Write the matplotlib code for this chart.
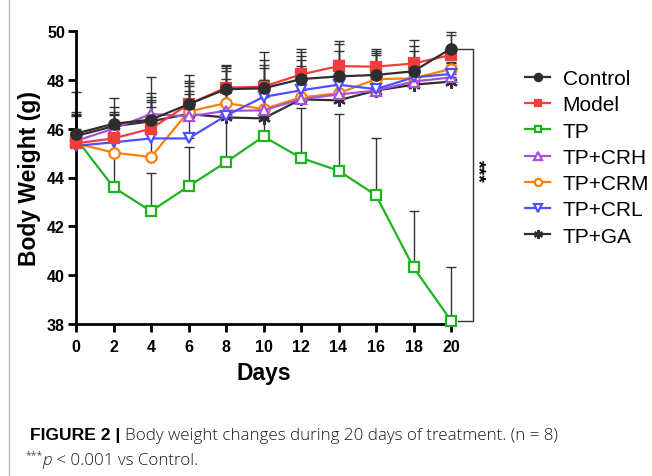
import matplotlib
matplotlib.use("Agg")
import matplotlib.pyplot as plt
from matplotlib.lines import Line2D
import numpy as np

plt.rcParams['font.family'] = ['Liberation Sans', 'DejaVu Sans']

days = [0, 2, 4, 6, 8, 10, 12, 14, 16, 18, 20]
groups = ["Control", "Model", "TP", "TP+CRH", "TP+CRM", "TP+CRL", "TP+GA"]

control = [45.80, 46.20, 46.37, 47.00, 47.62, 47.65, 48.03, 48.14, 48.20, 48.35, 49.28]
model   = [45.40, 45.60, 46.00, 47.00, 47.68, 47.72, 48.22, 48.56, 48.54, 48.67, 49.02]
tp      = [45.60, 43.60, 42.62, 43.64, 44.63, 45.68, 44.80, 44.28, 43.27, 40.32, 38.14]
tp_crh  = [45.50, 46.00, 46.60, 46.50, 46.73, 46.75, 47.21, 47.40, 47.56, 47.93, 48.10]
tp_crm  = [45.40, 45.02, 44.84, 46.70, 47.05, 46.80, 47.28, 47.45, 48.03, 48.06, 48.45]
tp_crl  = [45.30, 45.44, 45.60, 45.60, 46.53, 47.30, 47.57, 47.80, 47.62, 48.10, 48.24]
tp_ga   = [45.70, 46.10, 46.30, 46.60, 46.46, 46.42, 47.20, 47.16, 47.56, 47.80, 47.93]

sd_control = [0.77, 0.67, 0.91, 1.20, 0.98, 0.95, 1.10, 1.33, 0.97, 1.30, 0.67]
sd_model   = [0.60, 1.07, 1.19, 0.97, 0.87, 0.75, 1.04, 1.04, 0.72, 0.73, 0.82]
sd_tp      = [1.92, 1.30, 1.58, 1.59, 2.00, 3.44, 2.03, 2.32, 2.33, 2.32, 2.21]
sd_crh     = [1.20, 1.24, 1.53, 1.37, 1.74, 1.25, 1.77, 1.80, 1.54, 1.27, 0.50]
sd_crm     = [1.10, 1.00, 2.26, 1.06, 1.32, 1.20, 1.54, 1.00, 0.97, 0.80, 0.30]
sd_crl     = [0.50, 1.12, 1.86, 1.95, 1.50, 1.50, 1.00, 1.00, 1.00, 0.80, 0.45]
sd_ga      = [0.90, 0.50, 0.60, 0.80, 1.20, 1.00, 1.20, 1.00, 1.00, 0.90, 0.50]

means = [control, model, tp, tp_crh, tp_crm, tp_crl, tp_ga]
sds = [sd_control, sd_model, sd_tp, sd_crh, sd_crm, sd_crl, sd_ga]

caption_bold = "FIGURE 2 |"
caption_line1 = "Body weight changes during 20 days of treatment. (n = 8)"
caption_line2 = " < 0.001 vs Control."

colors = ['#2e2e2e', '#f23d3d', '#1eb41e', '#a552dc', '#ff7f0a', '#4f4fff', '#2e2e2e']
markers = ['o', 's', 's', '^', 'o', 'v', (6, 2, 0)]
filled = [True, True, False, False, False, False, True]
msizes = [7.5, 7, 7, 7.5, 7.5, 7.5, 9]
zorders = [9, 8, 7, 5, 4, 6, 3]

fig = plt.figure(figsize=(6.52, 4.77), dpi=100)
ax = fig.add_axes([76/652, 1-325/477, (451-76)/652, (325-32)/477])

# error bars (upper only), drawn behind
for m, s in zip(means, sds):
    m = np.array(m); s = np.array(s)
    ax.errorbar(days, m, yerr=[np.zeros_like(s), s], fmt='none', ecolor='#333333',
                elinewidth=1.0, capsize=3.5, capthick=1.0, zorder=1, clip_on=False)

handles = []
for name, m, c, mk, f, ms, z in zip(groups, means, colors, markers, filled, msizes, zorders):
    mfc = c if f else 'white'
    ln, = ax.plot(days, m, color=c, lw=1.6, marker=mk, markersize=ms,
                  markerfacecolor=mfc, markeredgecolor=c, markeredgewidth=1.6,
                  zorder=z, clip_on=False, label=name)
    handles.append(ln)

ax.set_xlim(0, 20)
ax.set_ylim(38, 50)
ax.set_xticks(days)
ax.set_yticks(np.arange(38, 51, 2))
for sp in ['top', 'right']:
    ax.spines[sp].set_visible(False)
for sp in ['left', 'bottom']:
    ax.spines[sp].set_linewidth(2.0)
ax.tick_params(axis='both', width=2.0, length=6, labelsize=11.5)
ax.tick_params(axis='y', pad=2)
ax.tick_params(axis='x', pad=5)
for lab in ax.get_xticklabels() + ax.get_yticklabels():
    lab.set_fontweight('bold')
ax.set_xlabel('Days', fontsize=16.5, fontweight='bold', labelpad=5)
ax.set_ylabel('Body Weight (g)', fontsize=16.5, fontweight='bold', labelpad=4)

# significance bracket: Control vs TP at day 20
xb0, xb1 = days[-1] + 0.37, days[-1] + 1.17
y_top, y_bot = control[-1], tp[-1]
ax.plot([xb0, xb1, xb1, xb0], [y_top, y_top, y_bot, y_bot], color='#333333', lw=1.0,
        clip_on=False, zorder=2)
ax.text(days[-1] + 1.4, 44.3, '***', rotation=-90, ha='center', va='center',
        fontsize=14, fontweight='bold', clip_on=False)

fig.legend(handles=handles, loc='upper left', bbox_to_anchor=(525/652, 1-70/477),
           frameon=False, fontsize=15, handlelength=1.2, handletextpad=0.6,
           labelspacing=0.35, markerscale=0.7, borderaxespad=0, borderpad=0)

# page margin line
fig.add_artist(Line2D([9/652, 9/652], [0, 1], color='#bbbbbb', lw=1.0,
                      transform=fig.transFigure))

# caption (font sizes fitted to the reference widths)
fig.canvas.draw()
r = fig.canvas.get_renderer()

def fit(t, target_px):
    w = t.get_window_extent(r).width
    t.set_fontsize(t.get_fontsize() * target_px / w)
    return t

reg = dict(family=['Open Sans', 'Liberation Sans', 'DejaVu Sans'], fontweight='light',
           color='#1a1a1a')
y1 = 1 - 440/477
y2 = 1 - 465/477
tb = fig.text(30/652, y1, caption_bold, fontsize=12, fontweight='bold', va='baseline', ha='left')
fit(tb, 90)
t1 = fig.text(125/652, y1, caption_line1, fontsize=11, va='baseline', ha='left', **reg)
fit(t1, 434)
ts = fig.text(25/652, 1 - 458/477, '***', fontsize=7.5, va='baseline', ha='left', **reg)
bb = ts.get_window_extent(r)
tp_ = fig.text(bb.x1/652, y2, 'p', fontsize=t1.get_fontsize(), style='italic',
               va='baseline', ha='left', **reg)
bb = tp_.get_window_extent(r)
t2 = fig.text(bb.x1/652, y2, caption_line2, fontsize=t1.get_fontsize(), va='baseline',
              ha='left', **reg)

fig.savefig('out.png', dpi=100)
